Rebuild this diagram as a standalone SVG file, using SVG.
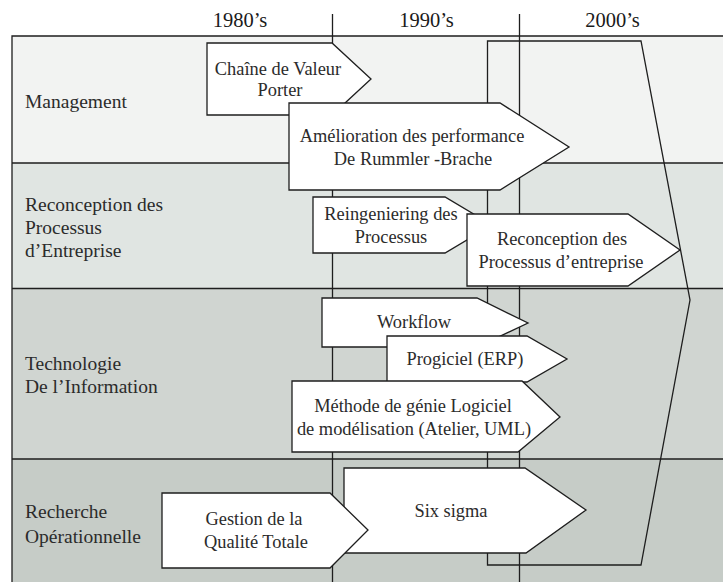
<svg xmlns="http://www.w3.org/2000/svg" width="723" height="582" viewBox="0 0 723 582">
<style>
  .band-label { font-family: "Liberation Serif", "Times New Roman", serif; font-size: 19.5px; fill: #2b2b2b; }
  .hdr { font-family: "Liberation Serif", "Times New Roman", serif; font-size: 20.5px; fill: #1a1a1a; text-anchor: middle; }
  .txt { font-family: "Liberation Serif", "Times New Roman", serif; font-size: 18.4px; fill: #2b2b2b; text-anchor: middle; }
  .arrow { fill: #ffffff; stroke: #1e1e1e; stroke-width: 1.3; stroke-linejoin: miter; }
  .line { stroke: #1e1e1e; stroke-width: 1.3; fill: none; }
</style>
<rect x="0" y="0" width="723" height="582" fill="#ffffff"/>
<g id="bands">
  <rect x="12" y="36" width="711" height="127" fill="#f2f3f2"/>
  <rect x="12" y="163" width="711" height="125.5" fill="#e0e5e2"/>
  <rect x="12" y="288.5" width="711" height="170.5" fill="#d0d5d1"/>
  <rect x="12" y="459" width="711" height="123" fill="#c6ccc7"/>
  <path class="line" d="M12,582 V36 H723 M12,163 H723 M12,288.5 H723 M12,459 H723"/>
</g>
<g id="headers">
  <text class="hdr" x="240" y="27">1980’s</text>
  <text class="hdr" x="426.5" y="27">1990’s</text>
  <text class="hdr" x="612.5" y="27">2000’s</text>
</g>
<g id="labels">
  <text class="band-label" x="25" y="108">Management</text>
  <text class="band-label" x="25" y="211">Reconception des</text>
  <text class="band-label" x="25" y="234">Processus</text>
  <text class="band-label" x="25" y="257">d’Entreprise</text>
  <text class="band-label" x="25" y="370">Technologie</text>
  <text class="band-label" x="25" y="393">De l’Information</text>
  <text class="band-label" x="25" y="518">Recherche</text>
  <text class="band-label" x="25" y="543">Opérationnelle</text>
</g>
<g id="connectors">
  <path class="line" d="M332.5,14 V582 M519.5,14 V582"/>
  <path id="bracket-2000s" class="line" d="M487.5,41 H641 L690,300 L641,565 H487.5 Z"/>
</g>
<g id="node-chaine">
  <path class="arrow" d="M207,43 H332 L371,79 L332,115 H207 Z"/>
  <text class="txt" x="278" y="75">Chaîne de Valeur</text>
  <text class="txt" x="280" y="96">Porter</text>
</g>
<g id="node-amelioration">
  <path class="arrow" d="M289,103 H500 L569,147 L500,190 H289 Z"/>
  <text class="txt" x="412" y="142">Amélioration des performance</text>
  <text class="txt" x="413" y="165">De Rummler -Brache</text>
</g>
<g id="node-reingeniering">
  <path class="arrow" d="M313,197 H445 L492,225 L445,253 H313 Z"/>
  <text class="txt" x="391" y="220">Reingeniering des</text>
  <text class="txt" x="391" y="243">Processus</text>
</g>
<g id="node-reconception">
  <path class="arrow" d="M467,214 H628 L680,250 L628,286 H467 Z"/>
  <text class="txt" x="562" y="245">Reconception des</text>
  <text class="txt" x="561" y="268">Processus d’entreprise</text>
</g>
<g id="node-workflow">
  <path class="arrow" d="M322,298 H477 L528,323 L477,347 H322 Z"/>
  <text class="txt" x="414" y="328">Workflow</text>
</g>
<g id="node-progiciel">
  <path class="arrow" d="M387,336 H527 L567,359 L527,382 H387 Z"/>
  <text class="txt" x="465" y="365">Progiciel (ERP)</text>
</g>
<g id="node-methode">
  <path class="arrow" d="M292,381 H522 L560,417 L518,452 H292 Z"/>
  <text class="txt" x="413" y="412">Méthode de génie Logiciel</text>
  <text class="txt" x="414" y="435">de modélisation (Atelier, UML)</text>
</g>
<g id="node-sixsigma">
  <path class="arrow" d="M344,468 H525 L586,510 L526,553 H344 Z"/>
  <text class="txt" x="451" y="517">Six sigma</text>
</g>
<g id="node-gestion">
  <path class="arrow" d="M162,493 H330 L368,530 L330,568 H162 Z"/>
  <text class="txt" x="254" y="525">Gestion de la</text>
  <text class="txt" x="256" y="548">Qualité Totale</text>
</g>
</svg>
